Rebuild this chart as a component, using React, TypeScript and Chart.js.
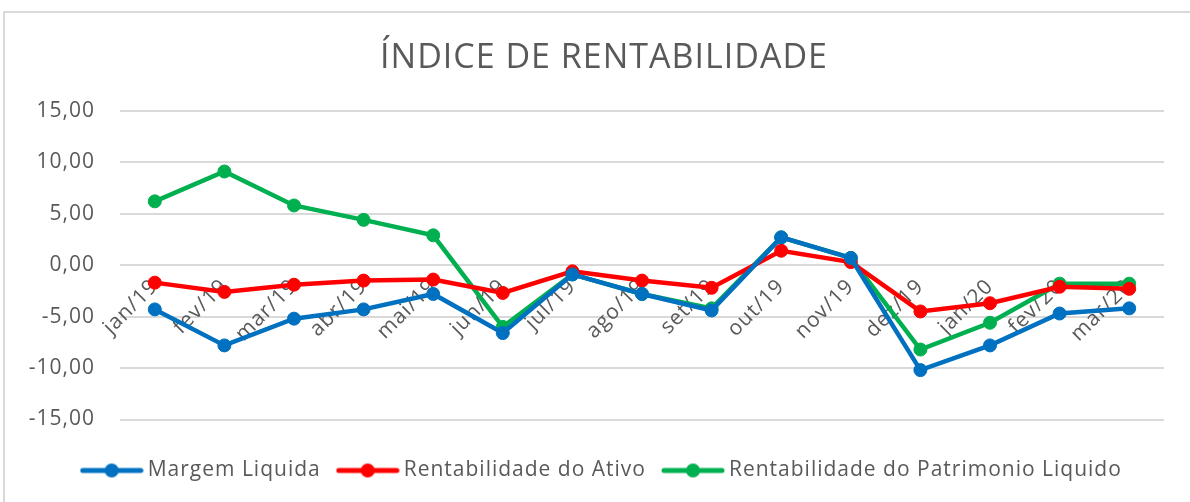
import React, { useEffect, useRef } from "react";
import { Chart, registerables } from "chart.js";

Chart.register(...registerables);

const categories = [
  "jan/19", "fev/19", "mar/19", "abr/19", "mai/19", "jun/19", "jul/19", "ago/19",
  "set/19", "out/19", "nov/19", "dez/19", "jan/20", "fev/20", "mar/20",
];
const margemLiquida = [-4.3, -7.8, -5.2, -4.3, -2.8, -6.6, -0.9, -2.8, -4.4, 2.7, 0.7, -10.2, -7.8, -4.7, -4.2];
const rentAtivo = [-1.7, -2.6, -1.9, -1.5, -1.4, -2.7, -0.6, -1.5, -2.2, 1.4, 0.3, -4.5, -3.7, -2.1, -2.3];
const rentPatrimonio = [6.2, 9.1, 5.8, 4.4, 2.9, -6.0, -0.9, -2.8, -4.2, 2.7, 0.7, -8.2, -5.6, -1.8, -1.8];
const seriesNames = ["Margem Liquida", "Rentabilidade do Ativo", "Rentabilidade do Patrimonio Liquido"];
const seriesColors = ["#0070C0", "#FF0000", "#00B050"];
const titleText = "ÍNDICE DE RENTABILIDADE";
const yMin = -15;
const yMax = 15;
const yStep = 5;

const FONT = "'Open Sans', sans-serif";
const TEXT_COLOR = "#595959";

function legendIcon(color: string): HTMLCanvasElement {
  const c = document.createElement("canvas");
  c.width = 64;
  c.height = 16;
  const ctx = c.getContext("2d")!;
  ctx.strokeStyle = color;
  ctx.lineWidth = 5;
  ctx.lineCap = "round";
  ctx.beginPath();
  ctx.moveTo(3, 8);
  ctx.lineTo(61, 8);
  ctx.stroke();
  ctx.fillStyle = color;
  ctx.beginPath();
  ctx.arc(32, 8, 7, 0, Math.PI * 2);
  ctx.fill();
  return c;
}

const spacingPlugin = {
  id: "letterSpacing",
  beforeUpdate(chart: any) {
    chart.ctx.letterSpacing = "1px";
  },
  afterLayout(chart: any) {
    const shift = 17;
    for (const box of [chart.titleBlock, chart.legend]) {
      if (box) {
        box.left += shift;
        box.right += shift;
      }
    }
  },
  beforeDraw(chart: any) {
    chart.ctx.letterSpacing = "1px";
  },
};

export default function App() {
  const canvasRef = useRef<HTMLCanvasElement | null>(null);

  useEffect(() => {
    document.body.style.margin = "0";
    const canvas = canvasRef.current;
    if (!canvas) return;
    const seriesData = [margemLiquida, rentAtivo, rentPatrimonio];
    const chart = new Chart(canvas, {
      type: "line",
      plugins: [spacingPlugin],
      data: {
        labels: categories,
        datasets: seriesData.map((d, i) => ({
          label: seriesNames[i],
          data: d,
          borderColor: seriesColors[i],
          backgroundColor: seriesColors[i],
          borderWidth: 4.5,
          pointRadius: 6.5,
          pointBorderWidth: 1,
          pointBackgroundColor: seriesColors[i],
          pointBorderColor: seriesColors[i],
          pointStyle: "circle",
          tension: 0,
          fill: false,
        })),
      },
      options: {
        animation: false,
        responsive: false,
        maintainAspectRatio: false,
        layout: { padding: { top: 12, left: 10, right: 26, bottom: 11 } },
        plugins: {
          title: {
            display: true,
            text: titleText,
            color: TEXT_COLOR,
            font: { family: FONT, size: 34, weight: "normal" },
            padding: { top: 26, bottom: 32 },
          },
          legend: {
            display: true,
            position: "bottom",
            title: { display: true, text: "", font: { size: 10 }, padding: { top: 0, bottom: 7 } },
            labels: {
              usePointStyle: true,
              pointStyleWidth: 51,
              color: TEXT_COLOR,
              font: { family: FONT, size: 21 },
              padding: 21.5,
              generateLabels: (ch: any) =>
                ch.data.datasets.map((ds: any, i: number) => ({
                  text: ds.label,
                  fillStyle: seriesColors[i],
                  strokeStyle: seriesColors[i],
                  lineWidth: 0,
                  pointStyle: legendIcon(seriesColors[i]),
                  hidden: false,
                  datasetIndex: i,
                  fontColor: TEXT_COLOR,
                })),
            },
          },
          tooltip: { enabled: false },
        },
        scales: {
          x: {
            type: "category",
            position: { y: 0 } as any,
            offset: true,
            grid: { display: false, drawTicks: false },
            border: { display: false },
            ticks: {
              color: TEXT_COLOR,
              font: { family: FONT, size: 21 },
              minRotation: 45,
              maxRotation: 45,
              padding: 9,
              autoSkip: false,
            },
          },
          y: {
            min: yMin,
            max: yMax,
            afterFit: (s: any) => {
              s.width = 110;
            },
            grid: { color: "#D9D9D9", lineWidth: 2, drawTicks: false },
            border: { display: false },
            ticks: {
              stepSize: yStep,
              padding: 25,
              color: TEXT_COLOR,
              font: { family: FONT, size: 21 },
              callback: (v: any) => Number(v).toFixed(2).replace(".", ","),
            },
          },
        },
      },
    });
    return () => chart.destroy();
  }, []);

  return (
    <div style={{ position: "fixed", left: 0, top: 0, width: 1190, height: 502, background: "#fff" }}>
      <div
        style={{
          position: "absolute",
          left: 3,
          top: 11,
          width: 1190,
          height: 495,
          border: "2px solid #D9D9D9",
          boxSizing: "border-box",
        }}
      />
      <canvas ref={canvasRef} width={1190} height={502} style={{ position: "absolute", left: 0, top: 0, width: 1190, height: 502 }} />
    </div>
  );
}
